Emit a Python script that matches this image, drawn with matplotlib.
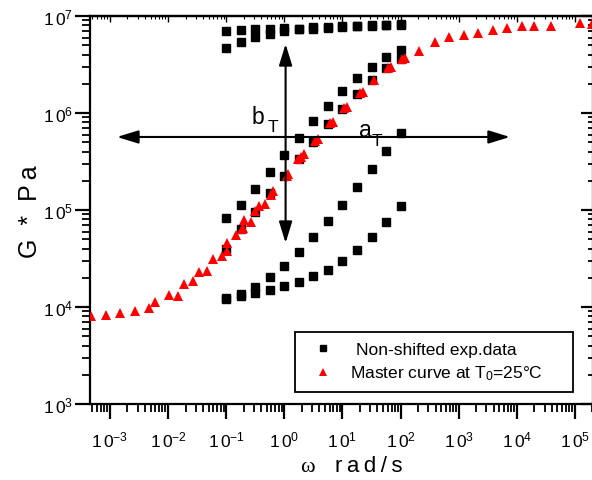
import numpy as np
import matplotlib
matplotlib.use("Agg")
import matplotlib.pyplot as plt
from matplotlib.ticker import LogLocator, NullFormatter, FuncFormatter, FixedLocator
from matplotlib.patches import Rectangle

plt.rcParams['font.family'] = ['Liberation Sans', 'DejaVu Sans']
plt.rcParams['mathtext.fontset'] = 'custom'
plt.rcParams['mathtext.rm'] = 'Liberation Sans'
plt.rcParams['mathtext.it'] = 'Liberation Sans:italic'
plt.rcParams['mathtext.bf'] = 'Liberation Sans:bold'

# ---------------- data ----------------
# frequency sweep (rad/s), 0.1 ... 100, 13 points
omega_exp = [0.1, 0.178, 0.316, 0.562, 1.0, 1.78, 3.16, 5.62, 10.0, 17.8, 31.6, 56.2, 100.0]

# non-shifted experimental data, one list per temperature (Pa)
g_exp_1 = [6.95e6, 7.18e6, 7.40e6, 7.35e6, 7.52e6, 7.40e6, 7.64e6, 7.76e6, 7.83e6, 7.83e6, 8.02e6, 8.13e6, 8.28e6]
g_exp_2 = [4.64e6, 5.43e6, 6.12e6, 6.52e6, 7.05e6, 7.26e6, 7.43e6, 7.61e6, 7.74e6, 7.80e6, 7.93e6, 8.07e6, 8.17e6]
g_exp_3 = [8.21e4, 1.13e5, 1.65e5, 2.48e5, 3.69e5, 5.48e5, 8.21e5, 1.19e6, 1.67e6, 2.30e6, 3.00e6, 3.75e6, 4.46e6]
g_exp_4 = [3.96e4, 6.37e4, 9.60e4, 1.49e5, 2.26e5, 3.36e5, 5.02e5, 7.70e5, 1.10e6, 1.57e6, 2.19e6, 2.89e6, 3.60e6]
g_exp_5 = [1.25e4, 1.36e4, 1.60e4, 2.02e4, 2.67e4, 3.66e4, 5.23e4, 7.65e4, 1.13e5, 1.71e5, 2.65e5, 4.03e5, 6.18e5]
g_exp_6 = [1.21e4, 1.30e4, 1.39e4, 1.50e4, 1.66e4, 1.82e4, 2.07e4, 2.42e4, 2.96e4, 3.87e4, 5.31e4, 7.46e4, 1.11e5]
g_exp_series = [g_exp_1, g_exp_2, g_exp_3, g_exp_4, g_exp_5, g_exp_6]

# master curve at T0 = 25 C
omega_master = [4.66e-4, 8.43e-4, 1.49e-3, 2.69e-3, 4.69e-3, 6.01e-3, 1.05e-2, 1.46e-2, 1.90e-2, 2.65e-2,
                3.40e-2, 4.61e-2, 5.98e-2, 8.45e-2, 0.102, 0.105, 0.150, 0.185, 0.196, 0.202,
                0.264, 0.318, 0.373, 0.464, 0.589, 0.646, 1.09, 1.15, 1.75, 1.93,
                2.18, 3.36, 3.79, 6.10, 6.87, 10.7, 11.9, 20.4, 22.5, 34.8,
                61.4, 68.3, 106.0, 119.0, 210.0, 383.0, 679.0, 1230.0, 2170.0, 3840.0,
                6840.0, 1.21e4, 2.0e4, 3.86e4, 1.22e5, 1.95e5]
g_master = [8.02e3, 8.33e3, 8.67e3, 9.16e3, 9.77e3, 1.13e4, 1.34e4, 1.29e4, 1.73e4, 1.87e4,
            2.28e4, 2.33e4, 3.15e4, 3.36e4, 3.80e4, 4.52e4, 5.52e4, 6.37e4, 6.52e4, 7.89e4,
            7.61e4, 9.77e4, 1.10e5, 1.15e5, 1.43e5, 1.58e5, 2.26e5, 2.35e5, 3.36e5, 3.52e5,
            3.78e5, 5.18e5, 5.40e5, 7.80e5, 8.07e5, 1.13e6, 1.14e6, 1.60e6, 1.65e6, 2.21e6,
            2.89e6, 2.98e6, 3.60e6, 3.69e6, 4.39e6, 5.36e6, 6.08e6, 6.37e6, 6.68e6, 7.18e6,
            7.52e6, 7.83e6, 7.83e6, 7.94e6, 8.41e6, 8.25e6]

x_ticks = [1e-3, 1e-2, 1e-1, 1e0, 1e1, 1e2, 1e3, 1e4, 1e5]
y_ticks = [1e3, 1e4, 1e5, 1e6, 1e7]
legend_labels = ["Non-shifted exp.data", r"Master curve at T$_0$=25°C"]

# ---------------- figure ----------------
W, H = 592, 481
fig = plt.figure(figsize=(W / 100, H / 100), dpi=100)
ax_l, ax_r, ax_t, ax_b = 90, 593, 17, 405
ax = fig.add_axes([ax_l / W, 1 - ax_b / H, (ax_r - ax_l) / W, (ax_b - ax_t) / H])

ax.set_xscale('log')
ax.set_yscale('log')
ax.set_xlim(10 ** -3.344, 10 ** 5.31)
ax.set_ylim(1e3, 1e7)

for g in g_exp_series:
    ax.plot(omega_exp, g, ls='none', marker='s', ms=6, color='black', mec='black', zorder=3)
ax.plot(omega_master, g_master, ls='none', marker='^', ms=7, color='red', mec='red', mew=0, zorder=4)

# shift arrows
arrow_kw = dict(arrowstyle='<|-|>,head_length=0.65,head_width=0.2', color='black', lw=1.5,
                shrinkA=0, shrinkB=0, mutation_scale=20)
ax.annotate('', xy=(7.6e3, 5.66e5), xytext=(1.32e-3, 5.66e5), arrowprops=arrow_kw, zorder=5)
ax.annotate('', xy=(1.05, 5.14e6), xytext=(1.05, 4.57e4), arrowprops=arrow_kw, zorder=5)

def afx(px):
    return (px - ax_l) / (ax_r - ax_l)

def afy(py):
    return (ax_b - py) / (ax_b - ax_t)

ax.text(afx(258), afy(117), 'b', transform=ax.transAxes, fontsize=16.5, ha='center', va='center')
ax.text(afx(273), afy(128), 'T', transform=ax.transAxes, fontsize=12.5, ha='center', va='center')
ax.text(afx(365), afy(131), 'a', transform=ax.transAxes, fontsize=16.5, ha='center', va='center')
ax.text(afx(377), afy(141), 'T', transform=ax.transAxes, fontsize=12.5, ha='center', va='center')

# spines & ticks
for s in ax.spines.values():
    s.set_linewidth(1.6)

fmt = FuncFormatter(lambda v, p: r'$\mathregular{1\,0^{%d}}$' % int(round(np.log10(v))))
ax.xaxis.set_major_locator(FixedLocator(x_ticks))
ax.xaxis.set_minor_locator(LogLocator(base=10, subs=np.arange(2, 10), numticks=100))
ax.yaxis.set_major_locator(FixedLocator(y_ticks))
ax.yaxis.set_minor_locator(LogLocator(base=10, subs=np.arange(2, 10), numticks=100))
ax.xaxis.set_major_formatter(fmt)
ax.yaxis.set_major_formatter(fmt)
ax.xaxis.set_minor_formatter(NullFormatter())
ax.yaxis.set_minor_formatter(NullFormatter())
ax.tick_params(which='major', direction='out', length=11, width=1.6, labelsize=12.5, pad=1)
ax.tick_params(which='minor', direction='out', length=5.5, width=1.3)
ax.tick_params(axis='x', which='major', pad=7)

secx = ax.secondary_xaxis('top')
secx.xaxis.set_major_locator(FixedLocator(x_ticks))
secx.xaxis.set_minor_locator(LogLocator(base=10, subs=np.arange(2, 10), numticks=100))
secx.tick_params(which='major', direction='in', length=4, width=1.0, labeltop=False)
secx.tick_params(which='minor', direction='in', length=2, width=0.8)
secx.xaxis.set_major_formatter(NullFormatter())
secx.xaxis.set_minor_formatter(NullFormatter())
secx.spines['top'].set_linewidth(1.6)

secy = ax.secondary_yaxis('right')
secy.yaxis.set_major_locator(FixedLocator(y_ticks))
secy.yaxis.set_minor_locator(LogLocator(base=10, subs=np.arange(2, 10), numticks=100))
secy.tick_params(which='major', direction='in', length=8.5, width=1.6, labelright=False)
secy.tick_params(which='minor', direction='in', length=3.6, width=1.3)
secy.yaxis.set_major_formatter(NullFormatter())
secy.yaxis.set_minor_formatter(NullFormatter())

# axis labels
fig.text(30 / W, 1 - 212 / H, 'G  *  P\u2009a', fontsize=18, rotation=90,
         ha='center', va='center')
fig.text(300 / W, 1 - 472 / H, 'ω', fontsize=16, family=['Liberation Serif', 'DejaVu Serif'],
         ha='left', va='baseline')
fig.text(335 / W, 1 - 472 / H, 'r\u2009a\u2009d\u2009/\u2009s', fontsize=16,
         family=['Liberation Sans', 'DejaVu Sans'], ha='left', va='baseline')

# legend (drawn by hand to match the frame)
ax.add_patch(Rectangle((afx(295), afy(393)), afx(573) - afx(295), afy(333) - afy(393),
                       transform=ax.transAxes, fill=True, facecolor='white', edgecolor='black',
                       lw=1.3, zorder=6))
ax.plot([afx(323)], [afy(349)], transform=ax.transAxes, ls='none', marker='s', ms=5,
        color='black', clip_on=False, zorder=7)
ax.plot([afx(323)], [afy(373)], transform=ax.transAxes, ls='none', marker='^', ms=5.5,
        color='red', mew=0, clip_on=False, zorder=7)
ax.text(afx(356), afy(351), legend_labels[0], transform=ax.transAxes, fontsize=12.5,
        ha='left', va='center', zorder=7)
ax.text(afx(350), afy(374), legend_labels[1], transform=ax.transAxes, fontsize=12.5,
        ha='left', va='center', zorder=7)

fig.savefig('out.png', dpi=100)
